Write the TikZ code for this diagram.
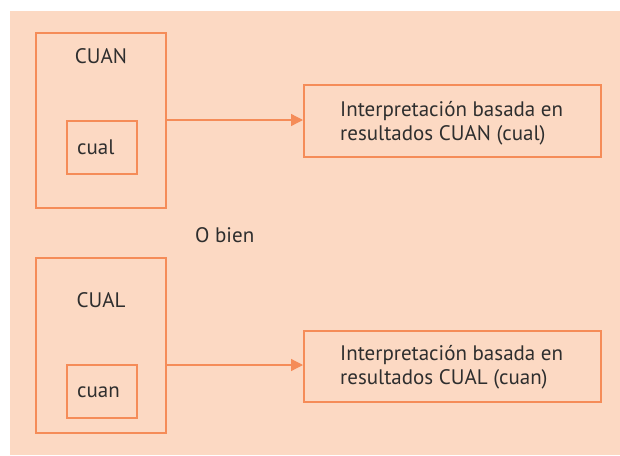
\documentclass[tikz,border=0pt]{standalone}
\usepackage{fontspec}
\setmainfont{PT Sans}
\usetikzlibrary{arrows.meta}
\definecolor{bg}{HTML}{FCD9C3}
\definecolor{ln}{HTML}{F58C58}
\definecolor{tx}{HTML}{2E2E2E}
\begin{document}
\begin{tikzpicture}[x=1pt,y=-1pt,
  box/.style={draw=ln,line width=1.6pt,inner sep=0pt},
  lbl/.style={text=tx,font=\fontsize{21}{24.5}\selectfont,inner sep=0pt},
  conn/.style={draw=ln,line width=1.3pt,-{Triangle[length=12pt,width=12pt]}}]
\useasboundingbox (0,0) rectangle (620,455);
\fill[bg] (10,11) rectangle (620,455);
% top group
\draw[box] (36,33) rectangle (166,208);
\node[box,minimum width=70pt,minimum height=53pt,anchor=north west] (ic1) at (66,120) {};
\node[lbl,anchor=base] (t1) at (101,63) {CUAN};
\node[lbl,anchor=base west] (tc1) at (77,154) {cual};
\coordinate (o1) at (166,120);
\node[box,minimum width=297pt,minimum height=72pt,anchor=north west] (r1) at (303,84) {};
\node[lbl,anchor=north west,align=left] (rt1) at (340,101) {Interpretación basada en\\resultados CUAN (cual)};
\draw[conn] (o1) -- (r1.west |- o1);
% middle
\node[lbl,anchor=base west] (ob) at (195,242) {O bien};
% bottom group
\draw[box] (36,258) rectangle (166,433);
\node[box,minimum width=70pt,minimum height=53pt,anchor=north west] (ic2) at (66,364) {};
\node[lbl,anchor=base] (t2) at (101,307) {CUAL};
\node[lbl,anchor=base west] (tc2) at (77,397) {cuan};
\coordinate (o2) at (166,365);
\node[box,minimum width=297pt,minimum height=71pt,anchor=north west] (r2) at (303,330) {};
\node[lbl,anchor=north west,align=left] (rt2) at (340,345) {Interpretación basada en\\resultados CUAL (cuan)};
\draw[conn] (o2) -- (r2.west |- o2);
\end{tikzpicture}
\end{document}
